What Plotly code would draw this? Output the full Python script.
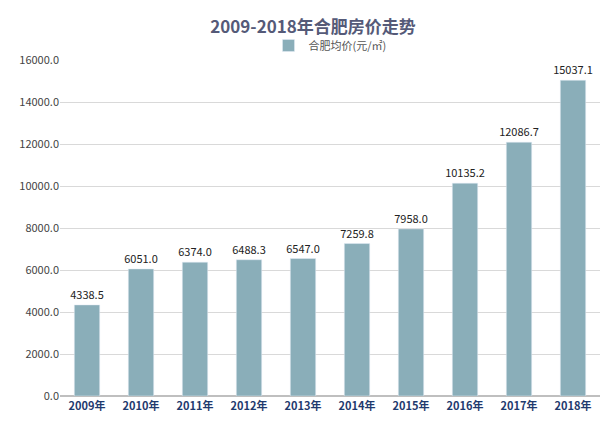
import plotly.graph_objects as go

years = ["2009年", "2010年", "2011年", "2012年", "2013年", "2014年", "2015年", "2016年", "2017年", "2018年"]
prices = [4338.5, 6051.0, 6374.0, 6488.3, 6547.0, 7259.8, 7958.0, 10135.2, 12086.7, 15037.1]

FONT = "Noto Sans CJK SC"

fig = go.Figure()
fig.add_trace(go.Bar(
    x=years, y=prices, name="合肥均价(元/㎡)",
    marker_color="#8aaeb9", width=0.47,
    text=[f"{v:.1f}" for v in prices], textposition="outside",
    constraintext="none", textangle=0,
    textfont=dict(size=11, color="#222222"), cliponaxis=False,
))
fig.update_layout(
    width=610, height=425,
    margin=dict(l=52, r=18, t=52, b=37, autoexpand=False),
    paper_bgcolor="white", plot_bgcolor="white",
    font=dict(family=FONT, color="#444444"),
    title=dict(text="<b>2009-2018年合肥房价走势</b>", x=0.5, y=0.955, xanchor="center",
               yanchor="middle", font=dict(size=17, color="#555a78")),
    showlegend=True,
    legend=dict(orientation="h", x=0.5, xanchor="center", y=1.0, yanchor="bottom",
                font=dict(size=11, color="#555555")),
    bargap=0.5,
)
fig.update_yaxes(range=[0, 16000], dtick=2000, tickformat=".1f",
                 gridcolor="#d9d9d9", zeroline=True, zerolinecolor="#bfbfbf",
                 tickfont=dict(size=11, color="#444444"))
fig.update_xaxes(tickfont=dict(size=11, color="#1f3a6e", family=FONT), showline=True,
                 linecolor="#bfbfbf", tickprefix="<b>", ticksuffix="</b>")
fig.write_html("out.html")
